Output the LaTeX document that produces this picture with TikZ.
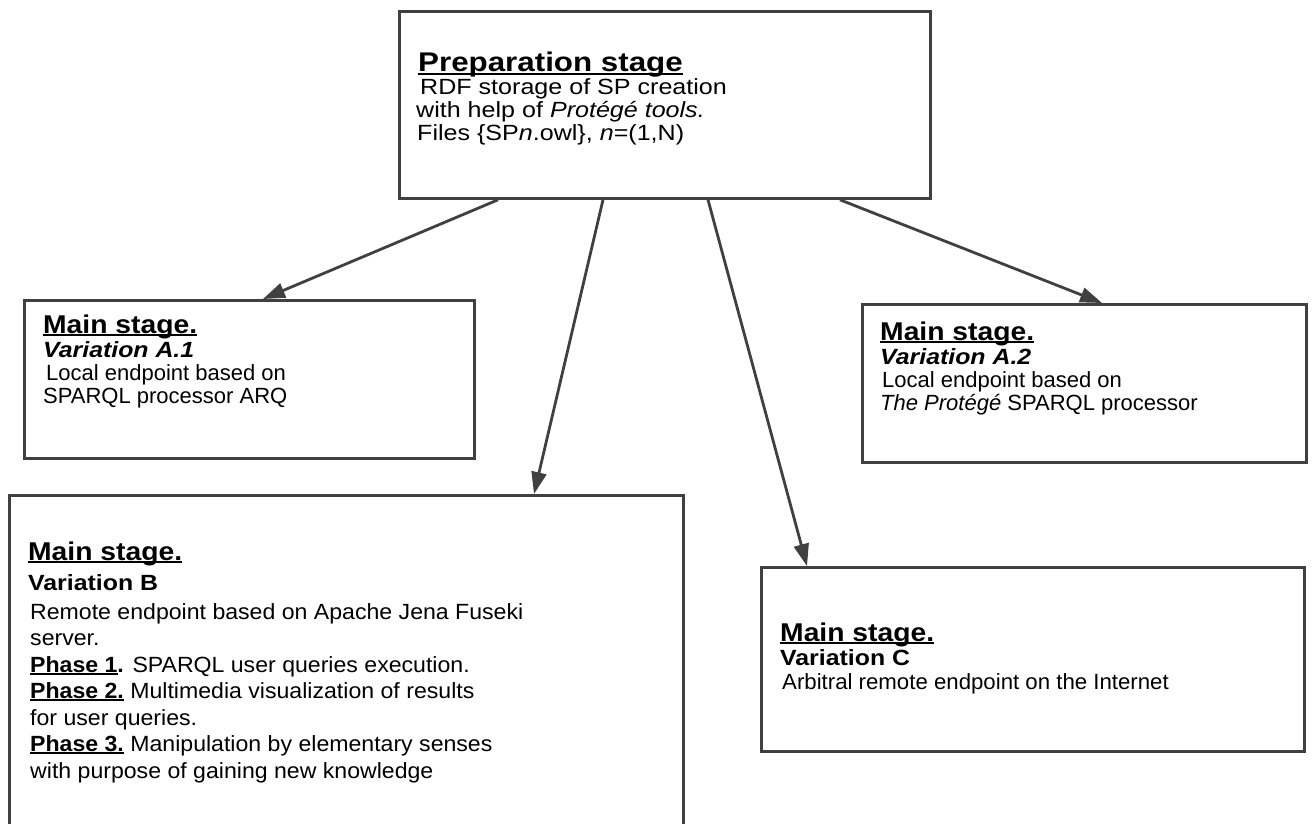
\documentclass[tikz,border=0pt]{standalone}
\usepackage{fontspec}
\setmainfont{Liberation Sans}
\usepackage{graphicx}
\usetikzlibrary{arrows.meta}
\definecolor{edge}{HTML}{404040}
\newcommand\ulx[1]{\leavevmode\setbox0\hbox{#1}\rlap{\rule[-0.12em]{\wd0}{0.075em}}\box0}
\newcommand\ttlx[1]{\scalebox{1.1}[1]{\fontsize{25.7}{28}\selectfont\bfseries\ulx{#1}}}
\newcommand\ttltop[1]{\scalebox{1.16}[1]{\fontsize{27}{28}\selectfont\bfseries\ulx{#1}}}
\newcommand\varx[1]{\scalebox{1.13}[1]{\fontsize{22}{26}\selectfont\bfseries #1}}
\newcommand\bodyx[2]{\scalebox{#1}[1]{\fontsize{22}{26}\selectfont #2}}
\tikzset{
  box/.style={draw=edge, line width=2.8pt, anchor=north west, inner sep=0pt},
  ln/.style={anchor=base west, inner sep=0pt},
  arr/.style={draw=edge, line width=2.8pt, -{Triangle[length=22pt,width=15pt]}}
}
\begin{document}
\begin{tikzpicture}[x=1pt,y=-1pt]
\path[use as bounding box, clip] (0,0) rectangle (1314,824);
\fill[white] (0,0) rectangle (1314,824);
% boxes
\node[box, minimum width=531pt, minimum height=187pt] (top) at (398,10) {};
\node[box, minimum width=450pt, minimum height=158pt] (a1) at (23,299) {};
\node[box, minimum width=444pt, minimum height=158pt] (a2) at (861,303) {};
\node[box, minimum width=674pt, minimum height=346pt] (b) at (8,494) {};
\node[box, minimum width=543pt, minimum height=184pt] (c) at (760,566) {};
% arrows
\draw[arr] ([xshift=100pt]top.south west) -- ([xshift=240pt]a1.north west);
\draw[arr] ([xshift=205pt]top.south west) -- ([xshift=526pt]b.north west);
\draw[arr] ([xshift=310pt]top.south west) -- ([xshift=47pt]c.north west);
\draw[arr] ([xshift=442pt]top.south west) -- ([xshift=241pt]a2.north west);
% top text
\node[ln] (t0) at (418,72) {\ttltop{Preparation stage}};
\node[ln] (t1) at (420,95) {\bodyx{1.14}{RDF storage of SP creation}};
\node[ln] (t2) at (416,118) {\bodyx{1.14}{with help of \textit{Protégé tools.}}};
\node[ln] (t3) at (417,141) {\bodyx{1.14}{Files \{SP\textit{n}.owl\}, \textit{n}=(1,N)}};
% A1 text
\node[ln] (a10) at (43,333) {\ttlx{Main stage.}};
\node[ln] (a11) at (43,357) {\varx{\itshape Variation A.1}};
\node[ln] (a12) at (46,380) {\bodyx{1.0}{Local endpoint based on}};
\node[ln] (a13) at (43,403) {\bodyx{1.0}{SPARQL processor ARQ}};
% A2 text
\node[ln] (a20) at (880,340) {\ttlx{Main stage.}};
\node[ln] (a21) at (880,364) {\varx{\itshape Variation A.2}};
\node[ln] (a22) at (882,387) {\bodyx{1.0}{Local endpoint based on}};
\node[ln] (a23) at (880,410) {\bodyx{1.0}{\textit{The Protégé} SPARQL processor}};
% B text
\node[ln] (b0) at (28,560) {\ttlx{Main stage.}};
\node[ln] (b1) at (28,590) {\varx{Variation B}};
\node[ln] (b2) at (30,619) {\bodyx{1.05}{Remote endpoint based on Apache Jena Fuseki}};
\node[ln] (b3) at (30,645) {\bodyx{1.05}{server.}};
\node[ln] (b4) at (30,672) {\bodyx{1.05}{\textbf{\ulx{Phase 1}.} SPARQL user queries execution.}};
\node[ln] (b5) at (30,698) {\bodyx{1.05}{\textbf{\ulx{Phase 2.}} Multimedia visualization of results}};
\node[ln] (b6) at (30,725) {\bodyx{1.05}{for user queries.}};
\node[ln] (b7) at (30,751) {\bodyx{1.05}{\textbf{\ulx{Phase 3.}} Manipulation by elementary senses}};
\node[ln] (b8) at (30,778) {\bodyx{1.05}{with purpose of gaining new knowledge}};
% C text
\node[ln] (c0) at (780,641) {\ttlx{Main stage.}};
\node[ln] (c1) at (780,665) {\varx{Variation C}};
\node[ln] (c2) at (782,689) {\bodyx{1.01}{Arbitral remote endpoint on the Internet}};
\end{tikzpicture}
\end{document}
